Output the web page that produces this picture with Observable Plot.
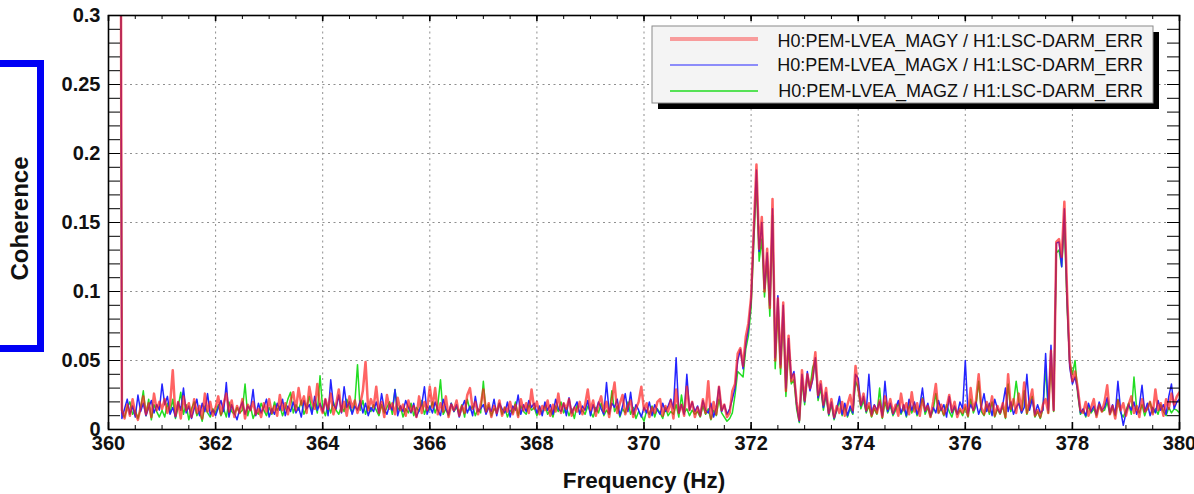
<!DOCTYPE html>
<html><head><meta charset="utf-8">
<script src="https://cdn.jsdelivr.net/npm/d3@7"></script>
<script src="https://cdn.jsdelivr.net/npm/@observablehq/plot@0.6"></script>
<style>
html,body{margin:0;padding:0;background:#fff;}
#wrap{position:relative;width:1194px;height:494px;overflow:hidden;}
#bracket{position:absolute;left:-10px;top:60px;width:54px;height:292px;box-sizing:border-box;border:7px solid #0000f5;border-left:none;}
#wrap svg{position:absolute;left:0;top:0;}
</style></head><body><div id="wrap"><div id="bracket"></div></div>
<script>
// Frequency sampling of the spectra
const freqStart = 360.2, freqStep = 0.05;
const seriesNames = [
  "H0:PEM-LVEA_MAGY / H1:LSC-DARM_ERR",
  "H0:PEM-LVEA_MAGX / H1:LSC-DARM_ERR",
  "H0:PEM-LVEA_MAGZ / H1:LSC-DARM_ERR"
];
const xTicks = [360, 362, 364, 366, 368, 370, 372, 374, 376, 378, 380];
const yTicks = [0, 0.05, 0.1, 0.15, 0.2, 0.25, 0.3];

// Coherence, MAGY (red)
const magy = [
0.9,0.014,0.008,0.018,0.010,0.022,0.012,0.007,0.016,0.024,0.011,0.019,0.009,0.026,0.014,0.020,
0.015,0.022,0.012,0.018,0.043,0.010,0.020,0.008,0.024,0.014,0.019,0.009,0.022,0.012,0.017,0.008,0.026,0.013,0.020,0.010,
0.016,0.024,0.011,0.019,0.026,0.013,0.021,0.009,0.017,0.012,0.022,0.008,0.018,0.014,0.020,0.011,0.015,0.009,0.019,0.013,
0.022,0.012,0.017,0.010,0.025,0.014,0.019,0.011,0.021,0.027,0.014,0.030,0.018,0.024,0.012,0.031,0.020,0.015,0.033,0.017,
0.012,0.022,0.015,0.026,0.011,0.018,0.029,0.013,0.020,0.010,0.024,0.016,0.021,0.012,0.018,0.028,0.049,0.014,0.022,0.016,
0.031,0.012,0.020,0.009,0.025,0.015,0.019,0.011,0.023,0.014,0.018,0.010,0.021,0.013,0.017,0.009,0.024,0.012,0.020,0.014,
0.031,0.016,0.030,0.011,0.019,0.013,0.024,0.009,0.018,0.014,0.021,0.010,0.017,0.012,0.025,0.030,0.015,0.020,0.011,0.018,
0.029,0.013,0.019,0.009,0.017,0.012,0.021,0.010,0.016,0.013,0.020,0.011,0.018,0.009,0.022,0.014,0.019,0.012,0.029,0.015,
0.020,0.011,0.017,0.014,0.021,0.010,0.018,0.013,0.026,0.012,0.019,0.015,0.022,0.010,0.016,0.013,0.020,0.011,0.018,0.029,
0.014,0.021,0.010,0.018,0.024,0.013,0.020,0.009,0.022,0.034,0.012,0.019,0.025,0.011,0.017,0.021,0.009,0.015,0.020,0.031,
0.014,0.019,0.009,0.016,0.012,0.020,0.022,0.010,0.017,0.013,0.021,0.008,0.029,0.012,0.018,0.010,0.031,0.014,0.020,0.009,
0.016,0.010,0.022,0.012,0.035,0.008,0.020,0.011,0.031,0.014,0.018,0.009,0.012,0.028,0.033,0.055,0.059,0.046,0.067,0.077,
0.096,0.145,0.192,0.131,0.154,0.100,0.131,0.088,0.167,0.050,0.095,0.045,0.092,0.028,0.068,0.035,0.040,0.020,0.007,0.043,
0.021,0.040,0.030,0.038,0.056,0.025,0.035,0.018,0.030,0.012,0.022,0.009,0.017,0.012,0.020,0.010,0.018,0.025,0.014,0.046,
0.030,0.018,0.026,0.014,0.019,0.010,0.017,0.012,0.021,0.009,0.024,0.015,0.022,0.012,0.018,0.010,0.026,0.014,0.019,0.011,
0.027,0.013,0.019,0.010,0.022,0.014,0.017,0.009,0.020,0.033,0.012,0.018,0.011,0.016,0.025,0.013,0.020,0.009,0.015,0.012,
0.018,0.010,0.030,0.014,0.021,0.040,0.016,0.011,0.020,0.013,0.024,0.010,0.017,0.012,0.019,0.009,0.040,0.015,0.022,0.012,
0.026,0.014,0.034,0.012,0.020,0.029,0.010,0.014,0.009,0.018,0.022,0.012,0.057,0.014,0.136,0.138,0.125,0.165,0.100,0.050,
0.035,0.042,0.030,0.014,0.012,0.020,0.010,0.016,0.022,0.009,0.018,0.013,0.020,0.032,0.011,0.017,0.008,0.021,0.014,0.019,
0.010,0.018,0.024,0.012,0.017,0.009,0.022,0.013,0.015,0.020,0.011,0.029,0.014,0.019,0.010,0.022,0.015,0.026,0.018,0.024,
0.027
];

// Coherence, MAGX (blue)
const magx = [
0.9,0.008,0.015,0.022,0.011,0.017,0.009,0.025,0.013,0.019,0.010,0.016,0.021,0.012,0.018,0.014,
0.033,0.018,0.024,0.011,0.016,0.009,0.020,0.014,0.030,0.012,0.017,0.008,0.015,0.022,0.010,0.019,0.013,0.026,0.011,0.014,
0.010,0.016,0.021,0.013,0.034,0.009,0.018,0.012,0.007,0.015,0.020,0.011,0.017,0.014,0.029,0.010,0.019,0.012,0.016,0.022,
0.009,0.015,0.011,0.019,0.014,0.022,0.010,0.017,0.013,0.020,0.012,0.016,0.009,0.021,0.015,0.018,0.011,0.024,0.014,0.019,
0.013,0.022,0.010,0.036,0.018,0.015,0.025,0.012,0.031,0.016,0.020,0.011,0.017,0.014,0.021,0.012,0.019,0.010,0.016,0.013,
0.020,0.012,0.026,0.015,0.011,0.018,0.014,0.029,0.010,0.017,0.013,0.021,0.016,0.012,0.019,0.009,0.014,0.018,0.031,0.011,
0.017,0.012,0.020,0.014,0.010,0.022,0.015,0.011,0.019,0.013,0.018,0.009,0.016,0.021,0.012,0.017,0.010,0.024,0.013,0.015,
0.018,0.011,0.016,0.013,0.022,0.010,0.019,0.015,0.012,0.020,0.009,0.017,0.014,0.025,0.011,0.018,0.013,0.021,0.016,0.019,
0.012,0.017,0.010,0.020,0.014,0.018,0.011,0.022,0.015,0.013,0.019,0.010,0.023,0.012,0.016,0.020,0.011,0.017,0.014,0.021,
0.010,0.018,0.013,0.020,0.015,0.011,0.034,0.012,0.019,0.016,0.022,0.010,0.017,0.026,0.013,0.027,0.011,0.018,0.014,0.009,
0.016,0.012,0.020,0.010,0.018,0.014,0.011,0.019,0.013,0.017,0.022,0.015,0.052,0.012,0.018,0.011,0.040,0.014,0.020,0.013,
0.017,0.010,0.021,0.014,0.012,0.019,0.009,0.016,0.031,0.013,0.018,0.011,0.015,0.022,0.030,0.050,0.058,0.044,0.062,0.073,
0.094,0.143,0.188,0.129,0.150,0.102,0.128,0.090,0.160,0.052,0.097,0.047,0.090,0.030,0.066,0.037,0.042,0.018,0.006,0.040,
0.020,0.042,0.028,0.036,0.052,0.023,0.033,0.016,0.027,0.011,0.020,0.008,0.015,0.024,0.011,0.019,0.010,0.017,0.012,0.040,
0.037,0.017,0.024,0.013,0.040,0.011,0.018,0.014,0.020,0.010,0.035,0.013,0.019,0.011,0.016,0.021,0.012,0.018,0.010,0.022,
0.014,0.020,0.011,0.017,0.030,0.013,0.019,0.010,0.016,0.012,0.021,0.014,0.018,0.009,0.024,0.012,0.017,0.011,0.020,0.015,
0.050,0.012,0.018,0.014,0.020,0.011,0.017,0.026,0.013,0.019,0.010,0.022,0.015,0.012,0.018,0.030,0.013,0.020,0.011,0.016,
0.019,0.012,0.016,0.040,0.014,0.022,0.011,0.018,0.012,0.014,0.055,0.014,0.061,0.014,0.135,0.136,0.118,0.160,0.095,0.045,
0.033,0.038,0.028,0.012,0.015,0.010,0.019,0.013,0.017,0.011,0.020,0.014,0.016,0.023,0.012,0.018,0.011,0.035,0.014,0.003,
0.012,0.018,0.014,0.020,0.011,0.017,0.032,0.013,0.019,0.010,0.016,0.012,0.021,0.014,0.018,0.011,0.024,0.033,0.015,0.020,
0.022
];

// Coherence, MAGZ (green)
const magz = [
0.9,0.012,0.009,0.016,0.020,0.011,0.014,0.008,0.015,0.028,0.010,0.022,0.007,0.018,0.013,0.009,
0.014,0.009,0.019,0.012,0.022,0.008,0.016,0.027,0.011,0.018,0.007,0.015,0.020,0.010,0.013,0.006,0.017,0.012,0.009,0.015,
0.012,0.018,0.010,0.015,0.009,0.020,0.013,0.011,0.016,0.012,0.014,0.033,0.010,0.017,0.008,0.013,0.011,0.019,0.014,0.010,
0.016,0.011,0.020,0.014,0.017,0.010,0.015,0.022,0.027,0.012,0.018,0.014,0.021,0.011,0.016,0.024,0.013,0.019,0.012,0.039,
0.015,0.010,0.018,0.012,0.020,0.014,0.011,0.017,0.013,0.022,0.016,0.012,0.019,0.047,0.014,0.021,0.011,0.017,0.013,0.018,
0.014,0.010,0.018,0.012,0.016,0.020,0.011,0.029,0.014,0.017,0.009,0.015,0.012,0.019,0.010,0.016,0.013,0.021,0.011,0.017,
0.014,0.020,0.012,0.018,0.036,0.011,0.015,0.010,0.019,0.013,0.016,0.012,0.018,0.009,0.022,0.014,0.017,0.010,0.015,0.012,
0.035,0.012,0.018,0.010,0.015,0.013,0.019,0.011,0.016,0.009,0.014,0.012,0.020,0.010,0.017,0.013,0.011,0.018,0.014,0.016,
0.010,0.015,0.012,0.018,0.011,0.014,0.009,0.017,0.013,0.020,0.012,0.016,0.010,0.015,0.008,0.018,0.012,0.014,0.011,0.017,
0.013,0.009,0.016,0.012,0.019,0.010,0.014,0.011,0.028,0.013,0.017,0.009,0.015,0.012,0.020,0.011,0.016,0.008,0.013,0.010,
0.006,0.014,0.011,0.017,0.009,0.015,0.012,0.008,0.016,0.010,0.013,0.011,0.018,0.009,0.025,0.012,0.015,0.010,0.014,0.011,
0.013,0.009,0.017,0.011,0.015,0.007,0.014,0.010,0.022,0.012,0.009,0.006,0.008,0.012,0.025,0.042,0.040,0.038,0.058,0.068,
0.088,0.135,0.180,0.122,0.138,0.096,0.124,0.082,0.155,0.044,0.088,0.040,0.085,0.024,0.060,0.033,0.036,0.015,0.005,0.035,
0.018,0.038,0.030,0.045,0.050,0.021,0.030,0.014,0.025,0.010,0.018,0.007,0.014,0.021,0.010,0.017,0.009,0.015,0.011,0.035,
0.030,0.015,0.021,0.012,0.017,0.009,0.015,0.011,0.030,0.008,0.020,0.012,0.017,0.010,0.014,0.019,0.011,0.016,0.009,0.018,
0.012,0.017,0.010,0.015,0.023,0.011,0.016,0.009,0.014,0.026,0.012,0.015,0.010,0.018,0.013,0.009,0.016,0.011,0.014,0.010,
0.016,0.009,0.022,0.012,0.017,0.035,0.013,0.010,0.018,0.011,0.020,0.009,0.015,0.011,0.017,0.008,0.033,0.013,0.019,0.035,
0.020,0.012,0.028,0.011,0.018,0.024,0.009,0.013,0.008,0.015,0.045,0.012,0.050,0.013,0.128,0.130,0.118,0.150,0.090,0.048,
0.040,0.050,0.025,0.011,0.014,0.009,0.017,0.012,0.015,0.010,0.018,0.013,0.014,0.020,0.011,0.016,0.010,0.022,0.012,0.009,
0.014,0.019,0.011,0.038,0.015,0.012,0.018,0.010,0.016,0.020,0.012,0.015,0.011,0.018,0.013,0.010,0.016,0.012,0.015,0.014,
0.012
];

const freqs = magy.map((_, i) => +(freqStart + i * freqStep).toFixed(2));

const W = 1194, H = 494, mL = 108, mR = 15, mT = 15, mB = 65;
const fw = W - mL - mR, fh = H - mT - mB;
const xMinor = d3.range(360, 380.001, 0.5);
const yMinor = d3.range(0, 31).map(k => k / 100);
const font = "Liberation Sans, Arial, Helvetica, sans-serif";

const seriesStyle = [
  {values: magz, stroke: "#22dd22", width: 1.5, opacity: 1},
  {values: magx, stroke: "#2424ff", width: 1.5, opacity: 1},
  {values: magy, stroke: "#ff1a1a", width: 2.5, opacity: 0.68}
];

const plot = Plot.plot({
  width: W, height: H,
  marginLeft: mL, marginRight: mR, marginTop: mT, marginBottom: mB,
  style: {fontFamily: font, background: "transparent", overflow: "visible"},
  x: {domain: [360, 380]},
  y: {domain: [0, 0.3]},
  marks: [
    Plot.gridX(xTicks.slice(1, -1), {stroke: "#8f8f8f", strokeOpacity: 1, strokeDasharray: "2,3.5"}),
    Plot.gridY(yTicks.slice(1, -1), {stroke: "#8f8f8f", strokeOpacity: 1, strokeDasharray: "2,3.5"}),
    ...seriesStyle.map(s => Plot.line(s.values, {
      x: (d, i) => freqs[i], y: d => d,
      stroke: s.stroke, strokeWidth: s.width, strokeOpacity: s.opacity,
      strokeLinejoin: "round", clip: true
    })),
    Plot.tickX(xMinor, {x: d => d, insetTop: fh - 4, stroke: "black"}),
    Plot.tickX(xMinor, {x: d => d, insetBottom: fh - 4, stroke: "black"}),
    Plot.tickX(xTicks, {x: d => d, insetTop: fh - 7, stroke: "black", strokeWidth: 1.6}),
    Plot.tickX(xTicks, {x: d => d, insetBottom: fh - 6, stroke: "black", strokeWidth: 1.6}),
    Plot.tickY(yMinor, {y: d => d, insetRight: fw - 12, stroke: "black"}),
    Plot.tickY(yMinor, {y: d => d, insetLeft: fw - 12, stroke: "black"}),
    Plot.frame({stroke: "black", strokeWidth: 1.6}),
    Plot.axisX(xTicks, {tickSize: 0, tickPadding: 6, fontSize: 20, fontWeight: "bold", fill: "#111", tickFormat: d => String(d), label: null}),
    Plot.axisY(yTicks, {tickSize: 0, tickPadding: 8, fontSize: 20, fontWeight: "bold", fill: "#111", tickFormat: d => String(d), label: null}),
    Plot.text(["Frequency (Hz)"], {text: d => d, frameAnchor: "bottom", textAnchor: "middle", dy: 58, lineAnchor: "bottom", fontSize: 22.5, fontWeight: "bold", fill: "#111"}),
    Plot.text(["Coherence"], {text: d => d, frameAnchor: "left", textAnchor: "middle", dx: -81, dy: -4, rotate: -90, lineAnchor: "bottom", fontSize: 24, fontWeight: "bold", fill: "#111"})
  ]
});
document.getElementById("wrap").appendChild(plot);

// Legend
const leg = d3.create("svg").attr("width", W).attr("height", H)
  .style("font-family", font).style("pointer-events", "none");
const lx = 652, ly = 26, lw = 501, lh = 77;
leg.append("rect").attr("x", lx + 6).attr("y", ly + 6).attr("width", lw).attr("height", lh).attr("fill", "#000");
leg.append("rect").attr("x", lx).attr("y", ly).attr("width", lw).attr("height", lh)
  .attr("fill", "#f4f4f4").attr("stroke", "#8a8a8a").attr("stroke-width", 1);
const legStyle = [
  {stroke: "#ff1a1a", width: 4, opacity: 0.4, y: 39, ty: 47},
  {stroke: "#2424ff", width: 1, opacity: 1, y: 65, ty: 71},
  {stroke: "#22dd22", width: 1.5, opacity: 1, y: 91, ty: 97}
];
seriesNames.forEach((name, k) => {
  const st = legStyle[k];
  leg.append("line").attr("x1", 670).attr("x2", 758).attr("y1", st.y).attr("y2", st.y)
    .attr("stroke", st.stroke).attr("stroke-width", st.width).attr("stroke-opacity", st.opacity);
  leg.append("text").attr("x", 1143).attr("y", st.ty).attr("text-anchor", "end")
    .attr("font-size", 18).attr("fill", "#111").text(name);
});
document.getElementById("wrap").appendChild(leg.node());
</script></body></html>
